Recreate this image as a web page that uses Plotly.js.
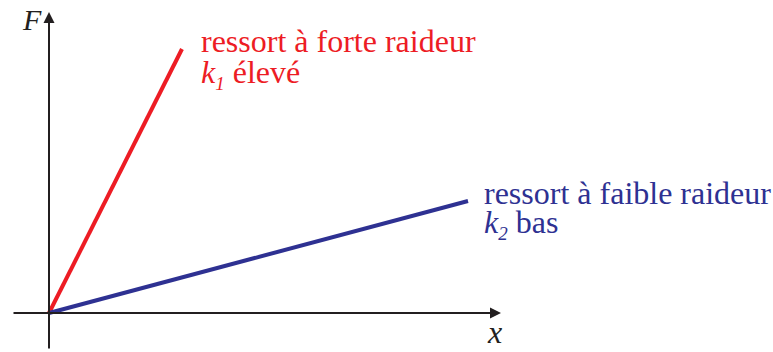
<!DOCTYPE html>
<html><head><meta charset="utf-8">
<script src="https://cdn.plot.ly/plotly-3.0.1.min.js"></script>
<style>html,body{margin:0;padding:0;background:#fff}#plot{width:773px;height:352px}</style>
</head><body><div id="plot"></div>
<script>
// Stiff spring (k1 high) and soft spring (k2 low): F vs x
const stiffX = [0, 1.33];
const stiffF = [0, 2.64];
const softX = [0, 4.19];
const softF = [0, 1.12];
const stiffLabel = ["ressort à forte raideur", "<i>k</i><sub><span style=\"font-size:19px\"><i>1</i></span></sub> élevé"];
const softLabel = ["ressort à faible raideur", "<i>k</i><sub><span style=\"font-size:19px\"><i>2</i></span></sub> bas"];
const axisNames = ["<i>x</i>", "<i>F</i>"];

const red = "#ED1C24", blue = "#2E3192", ink = "#231F20";
const serif = "Liberation Serif";

const traces = [
  {x: stiffX, y: stiffF, mode: "lines", line: {color: red, width: 4}, hoverinfo: "skip"},
  {x: softX, y: softF, mode: "lines", line: {color: blue, width: 4}, hoverinfo: "skip"}
];

function lab(text, x, y, color, size) {
  return {text: text, x: x, y: y, xref: "x", yref: "y", showarrow: false,
    xanchor: "left", yanchor: "middle", font: {family: serif, size: size, color: color}};
}
const annotations = [
  {x: 4.52, y: 0, ax: -0.37, ay: 0, xref: "x", yref: "y", axref: "x", ayref: "y",
   showarrow: true, arrowhead: 2, arrowsize: 1.1, arrowwidth: 2, arrowcolor: ink, text: "", standoff: 0},
  {x: 0, y: 3.01, ax: 0, ay: -0.37, xref: "x", yref: "y", axref: "x", ayref: "y",
   showarrow: true, arrowhead: 2, arrowsize: 1.1, arrowwidth: 2, arrowcolor: ink, text: "", standoff: 0},
  lab(stiffLabel[0], 1.50, 2.72, red, 32),
  lab(stiffLabel[1], 1.50, 2.39, red, 32),
  lab(softLabel[0], 4.33, 1.20, blue, 32),
  lab(softLabel[1], 4.33, 0.89, blue, 32),
  {text: axisNames[1], x: -0.17, y: 2.94, xref: "x", yref: "y", showarrow: false,
   xanchor: "center", yanchor: "middle", font: {family: serif, size: 30, color: ink}},
  {text: axisNames[0], x: 4.45, y: -0.19, xref: "x", yref: "y", showarrow: false,
   xanchor: "center", yanchor: "middle", font: {family: serif, size: 32, color: ink}}
];

const layout = {
  width: 773, height: 352,
  margin: {l: 0, r: 0, t: 0, b: 0},
  paper_bgcolor: "#fff", plot_bgcolor: "#fff",
  showlegend: false,
  xaxis: {range: [-0.49, 7.24], visible: false, fixedrange: true},
  yaxis: {range: [-0.39, 3.13], visible: false, fixedrange: true},
  annotations: annotations
};
Plotly.newPlot("plot", traces, layout, {staticPlot: true, displayModeBar: false});
</script></body></html>
